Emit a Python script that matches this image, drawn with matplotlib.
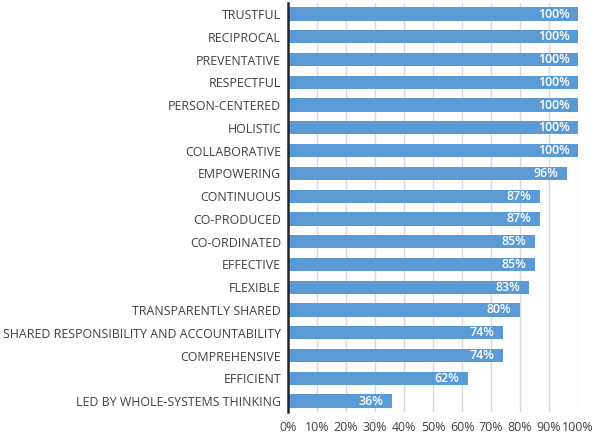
import matplotlib
matplotlib.use("Agg")
import matplotlib.pyplot as plt
from matplotlib.ticker import FuncFormatter

categories = ["TRUSTFUL", "RECIPROCAL", "PREVENTATIVE", "RESPECTFUL", "PERSON-CENTERED",
              "HOLISTIC", "COLLABORATIVE", "EMPOWERING", "CONTINUOUS", "CO-PRODUCED",
              "CO-ORDINATED", "EFFECTIVE", "FLEXIBLE", "TRANSPARENTLY SHARED",
              "SHARED RESPONSIBILITY AND ACCOUNTABILITY", "COMPREHENSIVE", "EFFICIENT",
              "LED BY WHOLE-SYSTEMS THINKING"]
values = [100, 100, 100, 100, 100, 100, 100, 96, 87, 87, 85, 85, 83, 80, 74, 74, 62, 36]
x_ticks = [0, 10, 20, 30, 40, 50, 60, 70, 80, 90, 100]

plt.rcParams['font.family'] = ['Open Sans', 'DejaVu Sans']

fig = plt.figure(figsize=(5.96, 4.36), dpi=100)
ax = fig.add_axes([0.483, 0.054, 0.487, 0.940])

y = list(range(len(categories)))
bars = ax.barh(y, values, height=0.58, color="#5B9BD5", zorder=3)
ax.set_ylim(len(categories) - 0.5, -0.5)
ax.set_xlim(0, 100)
ax.set_yticks(y)
ax.set_yticklabels(categories, fontsize=8.9, color="#404040")
ax.set_xticks(x_ticks)
ax.xaxis.set_major_formatter(FuncFormatter(lambda v, p: f"{int(v)}%"))
ax.tick_params(axis='x', labelsize=8.9, labelcolor="#404040", length=0, pad=6.5)
ax.tick_params(axis='y', length=0, pad=5)
ax.grid(axis='x', color="#D9D9D9", linewidth=1, zorder=0)
for s in ["top", "right", "bottom"]:
    ax.spines[s].set_visible(False)
ax.spines["left"].set_color("#262626")
ax.spines["left"].set_linewidth(1.8)
ax.spines["left"].set_zorder(4)

for yi, v in zip(y, values):
    ax.text(v - 3.0, yi, f"{v}%", ha="right", va="center", color="white",
            fontsize=8.9, fontweight="semibold", zorder=5)

fig.savefig("out.png", dpi=100)
